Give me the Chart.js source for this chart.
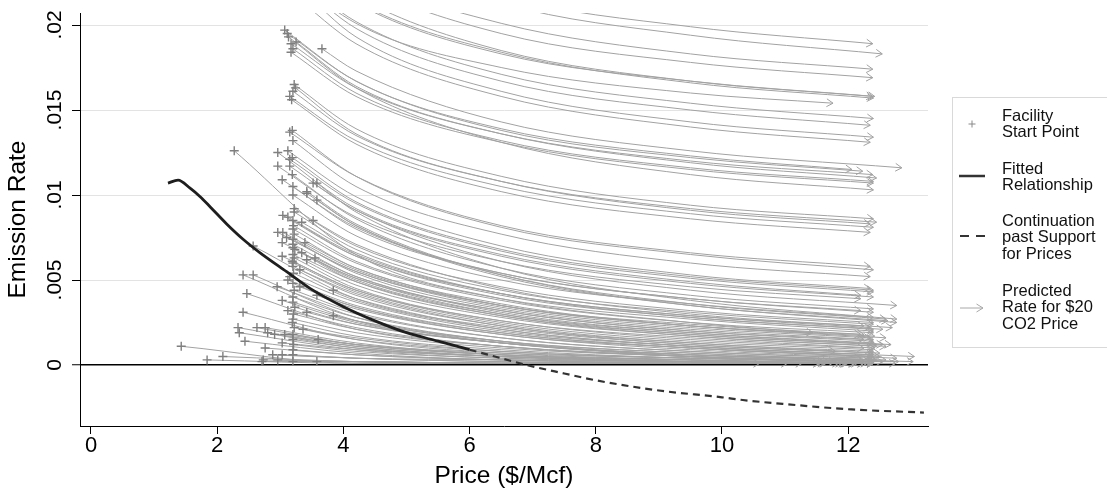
<!DOCTYPE html>
<html>
<head>
<meta charset="utf-8">
<script src="https://cdn.jsdelivr.net/npm/chart.js@4.4.1/dist/chart.umd.min.js"></script>
<style>
  html, body { margin:0; padding:0; background:#fff; overflow:hidden; }
  #wrap { position:relative; width:1107px; height:491px; }
  #legend { position:absolute; left:952px; top:97px; width:180px; height:251px; border:1px solid #d9d9d9; box-sizing:border-box; }
  .lt { position:absolute; left:1002px; font-family:'Liberation Sans', Arial, sans-serif; font-size:16.5px; line-height:16.3px; color:#111; white-space:nowrap; }
  svg.lm { position:absolute; left:0; top:0; overflow:visible; }
</style>
</head>
<body>
<div id="wrap">
  <canvas id="c"></canvas>
  <div id="legend"></div>
  <svg class="lm" width="1107" height="491">
    <line x1="968.5" y1="124" x2="975.5" y2="124" stroke="#888" stroke-width="1"/>
    <line x1="972" y1="120.5" x2="972" y2="127.5" stroke="#888" stroke-width="1"/>
    <line x1="959" y1="176" x2="985" y2="176" stroke="#333" stroke-width="2.5"/>
    <line x1="960" y1="236" x2="985" y2="236" stroke="#333" stroke-width="2" stroke-dasharray="9,7"/>
    <line x1="960" y1="308" x2="983" y2="308" stroke="#a8a8a8" stroke-width="1"/>
    <polyline points="976.5,304 983,308 976.5,312" fill="none" stroke="#a8a8a8" stroke-width="1"/>
  </svg>
  <div class="lt" style="top:107px">Facility<br>Start Point</div>
  <div class="lt" style="top:160px">Fitted<br>Relationship</div>
  <div class="lt" style="top:212px">Continuation<br>past Support<br>for Prices</div>
  <div class="lt" style="top:282px">Predicted<br>Rate for $20<br>CO2 Price</div>
</div>
<script>
// ---------- tick labels ----------
const xTickValues = [0, 2, 4, 6, 8, 10, 12];
const xTickLabels = ['0', '2', '4', '6', '8', '10', '12'];
const yTickValues = [0, 0.005, 0.01, 0.015, 0.02];
const yTickLabels = ['0', '.005', '.01', '.015', '.02'];

// ---------- fitted relationship ----------
const fittedPrice = [1.22, 1.38, 1.57, 1.73, 1.89, 2.15, 2.41, 2.68, 3.10, 3.47, 4.00, 4.53, 5.00, 5.50, 6.00];
const fittedRate  = [.0107, .01088, .0104, .0099, .0093, .0083, .0074, .0066, .00549, .00451, .00343, .00255, .0019, .0014, .0009];

const continuationPrice = [6.00, 6.50, 6.90, 7.50, 8.00, 9.00, 10.00, 10.33, 11.00, 12.00, 13.20];
const continuationRate  = [.0009, .0004, .0000, -.0005, -.0009, -.0015, -.0019, -.00206, -.0023, -.0026, -.0028];

// ---------- facility arrows: start, rate read at three prices, end ----------
const readPrices = [4.2, 6.5, 9.5];

const startPrice = [
  3.15,3.30,3.10,3.10,3.15,3.20,3.25,2.50,3.20,3.25,3.30,3.20,
  3.07,3.11,3.17,3.25,3.20,3.17,3.66,3.13,
  3.22,3.20,3.15,3.24,3.18,
  3.15,3.19,3.20,2.27,3.12,2.96,3.19,3.15,2.96,3.15,
  3.52,3.58,3.19,3.03,3.20,3.42,3.20,3.42,3.58,3.22,
  3.04,3.12,3.20,3.34,3.52,3.22,2.96,3.04,3.20,3.10,
  3.03,3.39,3.20,3.20,3.23,3.34,3.03,3.42,3.55,3.19,
  3.20,2.57,3.31,3.15,3.20,3.12,2.95,3.31,3.84,3.58,
  3.03,3.20,3.23,3.12,3.42,3.84,3.19,3.36,3.20,3.03,
  3.60,3.20,2.88,3.03,2.71,2.96,3.58,3.20,3.21,3.22,
  3.20,3.22,3.20,3.21,3.20,3.22,3.20,3.21,3.20,3.22,
  3.20,3.21,3.20,
  1.43,1.84,2.09,2.41,2.57,2.47,2.41,2.33,2.35,2.44,2.63,2.76,2.80,2.91,3.07,2.76,2.73
];
const startRate = [
  .0280,.0274,.0262,.0256,.0246,.0243,.0240,.0250,.0230,.0226,.0222,.0218,
  .0197,.0195,.0189,.0190,.0186,.0184,.0186,.0193,
  .0165,.0161,.0158,.0163,.0156,
  .0137,.0138,.0132,.0126,.0126,.0125,.0122,.0121,.0117,.0117,
  .0107,.0107,.0112,.0109,.0105,.0102,.0100,.0101,.0097,.0092,
  .0088,.0087,.0085,.0084,.0085,.0090,.0078,.0078,.0080,.0075,
  .0072,.0072,.0074,.0069,.0068,.0066,.0064,.0062,.0063,.0061,
  .0065,.0070,.0056,.0052,.0058,.0050,.0046,.0046,.0044,.0041,
  .0038,.0040,.0034,.0032,.0031,.0029,.0025,.0021,.0018,.0013,
  .0015,.0009,.0006,.0006,.0002,.0003,.0002,.0002,.0082,.0077,
  .0071,.0063,.0060,.0054,.0048,.0044,.0037,.0030,.0027,.0022,
  .0015,.0012,.0006,
  .0011,.0003,.0005,.0053,.0053,.0042,.0031,.0022,.0019,.0014,.0022,.0022,.0019,.0018,.0018,.0010,.0003
];
const rateAt42 = [
  .0250,.0248,.0231,.0226,.0217,.0214,.0213,.0201,.0202,.0198,.0193,.0189,
  .0167,.0167,.0163,.0164,.0160,.0158,.0173,.0163,
  .0139,.0135,.0132,.0136,.0130,
  .0111,.0111,.0105,.0065,.0099,.0092,.0096,.0095,.0087,.0091,
  .0091,.0090,.0086,.0081,.0080,.0083,.0076,.0082,.0082,.0070,
  .0064,.0065,.0064,.0066,.0071,.0068,.0055,.0056,.0060,.0055,
  .0051,.0057,.0054,.0050,.0049,.0051,.0044,.0049,.0052,.0044,
  .0047,.0039,.0042,.0037,.0041,.0035,.0030,.0034,.0039,.0033,
  .0025,.0028,.0024,.0022,.0024,.0026,.0017,.0016,.0012,.0009,
  .0012,.0006,.0004,.0004,.0002,.0002,.0002,.0002,.0061,.0057,
  .0052,.0045,.0043,.0038,.0034,.0031,.0026,.0021,.0019,.0015,
  .0010,.0008,.0004,
  .0001,.0001,.0002,.0026,.0028,.0021,.0015,.0010,.0009,.0007,.0012,.0013,.0011,.0011,.0012,.0006,.0002
];
const rateAt65 = [
  .0217,.0213,.0201,.0195,.0185,.0184,.0183,.0175,.0171,.0167,.0161,.0158,
  .0139,.0138,.0136,.0136,.0132,.0131,.0143,.0131,
  .0111,.0108,.0105,.0108,.0102,
  .0082,.0081,.0077,.0039,.0070,.0065,.0068,.0067,.0061,.0064,
  .0061,.0057,.0057,.0054,.0054,.0053,.0050,.0053,.0052,.0046,
  .0042,.0042,.0041,.0042,.0045,.0044,.0035,.0035,.0038,.0034,
  .0032,.0035,.0033,.0030,.0029,.0030,.0026,.0029,.0031,.0025,
  .0028,.0022,.0023,.0020,.0023,.0019,.0016,.0019,.0021,.0018,
  .0013,.0014,.0013,.0011,.0013,.0013,.0009,.0008,.0006,.0005,
  .0007,.0003,.0003,.0002,.0001,.0001,.0001,.0001,.0039,.0036,
  .0032,.0026,.0024,.0021,.0018,.0016,.0014,.0011,.0010,.0008,
  .0005,.0004,.0002,
  .0001,.0001,.0001,.0013,.0014,.0011,.0007,.0005,.0004,.0003,.0006,.0006,.0005,.0005,.0006,.0003,.0001
];
const rateAt95 = [
  .0199,.0194,.0183,.0178,.0167,.0166,.0167,.0160,.0154,.0150,.0143,.0140,
  .0123,.0122,.0120,.0119,.0116,.0115,.0126,.0112,
  .0094,.0092,.0089,.0091,.0086,
  .0066,.0065,.0060,.0025,.0053,.0049,.0052,.0051,.0046,.0048,
  .0044,.0038,.0041,.0039,.0039,.0035,.0036,.0036,.0035,.0032,
  .0029,.0029,.0028,.0028,.0030,.0031,.0023,.0024,.0025,.0022,
  .0020,.0023,.0021,.0019,.0018,.0018,.0015,.0017,.0019,.0014,
  .0017,.0012,.0013,.0011,.0012,.0010,.0008,.0010,.0011,.0009,
  .0006,.0007,.0006,.0005,.0006,.0006,.0004,.0004,.0003,.0002,
  .0004,.0002,.0001,.0001,.0001,.0001,.0001,.0001,.0027,.0023,
  .0020,.0016,.0013,.0011,.0010,.0008,.0007,.0005,.0005,.0004,
  .0003,.0002,.0001,
  .0001,.0001,.0001,.0005,.0005,.0005,.0003,.0002,.0002,.0002,.0002,.0003,.0002,.0002,.0003,.0001,.0001
];
const endPrice = [
  12.39,12.54,12.39,12.39,12.39,12.40,12.42,11.76,12.40,12.35,12.40,12.35,
  12.06,12.23,12.39,12.45,12.40,12.40,12.85,12.40,
  12.40,12.45,12.40,12.35,12.35,
  12.35,12.40,12.35,11.44,12.35,12.20,12.40,12.40,12.20,12.40,
  12.77,12.77,12.40,12.20,12.40,12.63,12.40,12.60,12.77,12.40,
  12.25,12.35,12.40,12.55,12.70,12.40,12.20,12.25,12.40,12.35,
  12.25,12.60,12.40,12.40,12.45,12.55,12.25,12.60,12.68,12.40,
  12.45,11.80,12.50,12.40,12.40,12.35,12.20,12.50,13.05,12.77,
  12.25,12.40,12.45,12.35,12.60,13.03,12.40,12.55,12.40,12.25,
  12.80,12.40,12.10,12.25,11.90,12.15,12.75,12.40,12.40,12.42,
  12.40,12.42,12.40,12.40,12.40,12.42,12.40,12.40,12.40,12.42,
  12.40,12.40,12.40,
  10.60,11.04,11.27,11.62,11.80,11.70,11.62,11.55,11.55,11.65,11.85,11.98,12.00,12.12,12.30,11.98,11.95
];
const endRate = [
  .0189,.0183,.0174,.0169,.0158,.0157,.0158,.0154,.0145,.0141,.0134,.0131,
  .0115,.0114,.0112,.0110,.0108,.0107,.0116,.0103,
  .0086,.0084,.0081,.0083,.0078,
  .0058,.0056,.0052,.0019,.0045,.0041,.0044,.0043,.0039,.0040,
  .0035,.0027,.0033,.0032,.0031,.0026,.0028,.0027,.0025,.0025,
  .0023,.0022,.0021,.0021,.0022,.0024,.0018,.0018,.0019,.0016,
  .0015,.0016,.0015,.0013,.0012,.0012,.0010,.0011,.0012,.0009,
  .0011,.0008,.0007,.0006,.0007,.0005,.0004,.0005,.0005,.0004,
  .0003,.0003,.0003,.0002,.0003,.0002,.0002,.0002,.0001,.0001,
  .0002,.0001,.0001,.0001,.0001,.0001,.0001,.0001,.0020,.0017,
  .0014,.0010,.0008,.0006,.0005,.0004,.0003,.0002,.0002,.0002,
  .0001,.0001,.0001,
  .0001,.0001,.0001,.0002,.0002,.0002,.0001,.0001,.0001,.0001,.0001,.0001,.0001,.0001,.0001,.0001,.0001
];

// ---------- chart ----------
Chart.defaults.font.family = "'Liberation Sans', Arial, Helvetica, sans-serif";
Chart.defaults.color = '#000';

const ARROW_COLOR = '#a2a2a2';
const n = Math.min(startPrice.length, startRate.length, rateAt42.length, rateAt65.length, rateAt95.length, endPrice.length, endRate.length);

const arrowSets = [];
for (let i = 0; i < n; i++) {
  arrowSets.push({
    isArrow: true,
    order: 3,
    showLine: true,
    data: [
      {x: startPrice[i], y: startRate[i]},
      {x: readPrices[0], y: rateAt42[i]},
      {x: readPrices[1], y: rateAt65[i]},
      {x: readPrices[2], y: rateAt95[i]},
      {x: endPrice[i], y: endRate[i]}
    ],
    borderColor: ARROW_COLOR,
    borderWidth: 1,
    pointRadius: 0,
    pointHoverRadius: 0,
    cubicInterpolationMode: 'monotone',
    fill: false
  });
}

const arrowHeads = {
  id: 'arrowHeads',
  afterDatasetDraw(chart, args) {
    const ds = chart.data.datasets[args.index];
    if (!ds.isArrow) return;
    const pts = args.meta.data;
    const p = pts[pts.length - 1];
    let dx, dy;
    if (p.cp1x !== undefined && Math.abs(p.x - p.cp1x) + Math.abs(p.y - p.cp1y) > 0.5) {
      dx = p.x - p.cp1x; dy = p.y - p.cp1y;
    } else {
      const q = pts[pts.length - 2]; dx = p.x - q.x; dy = p.y - q.y;
    }
    const a = Math.atan2(dy, dx);
    const ctx = chart.ctx;
    const L = 7.5, s = 0.55;
    ctx.save();
    ctx.strokeStyle = ds.borderColor;
    ctx.lineWidth = 1;
    ctx.beginPath();
    ctx.moveTo(p.x - L * Math.cos(a - s), p.y - L * Math.sin(a - s));
    ctx.lineTo(p.x, p.y);
    ctx.lineTo(p.x - L * Math.cos(a + s), p.y - L * Math.sin(a + s));
    ctx.stroke();
    ctx.restore();
  }
};

new Chart(document.getElementById('c'), {
  type: 'scatter',
  data: {
    datasets: [
      {
        label: 'Fitted Relationship',
        order: 0,
        showLine: true,
        data: fittedPrice.map((x, i) => ({x, y: fittedRate[i]})),
        borderColor: '#1e1e1e',
        borderWidth: 2.8,
        pointRadius: 0,
        cubicInterpolationMode: 'monotone'
      },
      {
        label: 'Continuation past Support for Prices',
        order: 1,
        showLine: true,
        data: continuationPrice.map((x, i) => ({x, y: continuationRate[i]})),
        borderColor: '#333',
        borderWidth: 2.2,
        borderDash: [7, 5],
        pointRadius: 0,
        cubicInterpolationMode: 'monotone'
      },
      {
        label: 'Facility Start Point',
        order: 2,
        showLine: false,
        data: startPrice.slice(0, n).map((x, i) => ({x, y: startRate[i]})),
        pointStyle: 'cross',
        pointRadius: 4.5,
        pointBorderWidth: 1.4,
        borderColor: '#7f7f7f',
        backgroundColor: '#7f7f7f'
      },
      ...arrowSets
    ]
  },
  options: {
    responsive: true,
    maintainAspectRatio: false,
    animation: false,
    events: [],
    layout: { padding: { top: 13, right: 179, left: 0, bottom: 0 } },
    plugins: { legend: { display: false }, tooltip: { enabled: false } },
    scales: {
      x: {
        type: 'linear',
        min: -0.1743,
        max: 13.265,
        afterBuildTicks: s => { s.ticks = xTickValues.map(v => ({value: v})); },
        afterFit: s => { s.height = 65; },
        ticks: {
          font: { size: 22 },
          color: '#000',
          padding: -1,
          maxRotation: 0,
          callback: v => { const k = xTickValues.indexOf(v); return k >= 0 ? xTickLabels[k] : ''; }
        },
        grid: { drawOnChartArea: false, drawTicks: true, tickLength: 8, tickColor: '#000', tickWidth: 1 },
        border: { display: true, color: '#000', width: 1 },
        title: { display: true, text: 'Price ($/Mcf)', font: { size: 24.5 }, color: '#000', padding: { top: 0, bottom: 0 } }
      },
      y: {
        type: 'linear',
        min: -0.003588,
        max: 0.020706,
        afterBuildTicks: s => { s.ticks = yTickValues.map(v => ({value: v})); },
        afterFit: s => { s.width = 80; },
        ticks: {
          font: { size: 21 },
          color: '#000',
          minRotation: 90,
          maxRotation: 90,
          crossAlign: 'center',
          padding: -4,
          callback: v => { const k = yTickValues.indexOf(v); return k >= 0 ? yTickLabels[k] : ''; }
        },
        grid: {
          color: c => (c.tick && c.tick.value === 0) ? '#000' : '#e3e3e3',
          lineWidth: c => (c.tick && c.tick.value === 0) ? 1.5 : 1,
          drawTicks: true,
          tickLength: 8,
          tickColor: '#000',
          tickWidth: 1
        },
        border: { display: true, color: '#000', width: 1 },
        title: { display: true, text: 'Emission Rate', font: { size: 24.5 }, color: '#000', padding: { top: 4, bottom: 0 } }
      }
    }
  },
  plugins: [arrowHeads]
});
</script>
</body>
</html>
